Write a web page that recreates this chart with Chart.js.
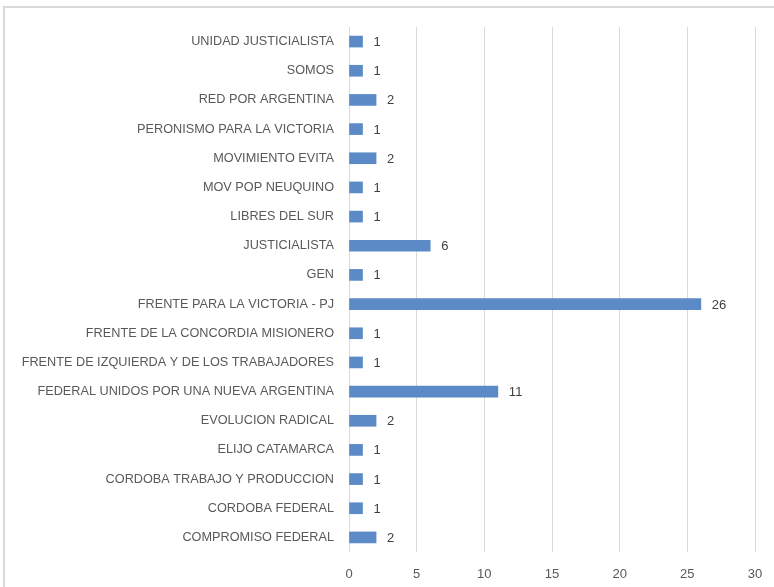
<!DOCTYPE html>
<html>
<head>
<meta charset="utf-8">
<title>Bloques</title>
<script src="https://cdn.jsdelivr.net/npm/chart.js@4/dist/chart.umd.min.js"></script>
<style>
  html, body { margin: 0; padding: 0; background: #fff; }
  #wrap { width: 774px; height: 587px; }
</style>
</head>
<body>
<div id="wrap"><canvas id="chart" width="774" height="587"></canvas></div>
<script>
// data, top to bottom as shown
const categories = [
	'UNIDAD JUSTICIALISTA',
	'SOMOS',
	'RED POR ARGENTINA',
	'PERONISMO PARA LA VICTORIA',
	'MOVIMIENTO EVITA',
	'MOV POP NEUQUINO',
	'LIBRES DEL SUR',
	'JUSTICIALISTA',
	'GEN',
	'FRENTE PARA LA VICTORIA - PJ',
	'FRENTE DE LA CONCORDIA MISIONERO',
	'FRENTE DE IZQUIERDA Y DE LOS TRABAJADORES',
	'FEDERAL UNIDOS POR UNA NUEVA ARGENTINA',
	'EVOLUCION RADICAL',
	'ELIJO CATAMARCA',
	'CORDOBA TRABAJO Y PRODUCCION',
	'CORDOBA FEDERAL',
	'COMPROMISO FEDERAL'
];
const values = [ 1, 1, 2, 1, 2, 1, 1, 6, 1, 26, 1, 1, 11, 2, 1, 1, 1, 2 ];
const xTicks = [ 0, 5, 10, 15, 20, 25, 30 ];

const FONT = 'Liberation Sans, Arial, sans-serif';

// white background + light grey frame like the pasted chart
const frame = {
	id: 'frame',
	beforeDraw( chart ) {
		const ctx = chart.ctx;
		ctx.save();
		ctx.fillStyle = '#fff';
		ctx.fillRect( 0, 0, chart.width, chart.height );
		ctx.strokeStyle = '#d9d9d9';
		ctx.lineWidth = 2;
		ctx.strokeRect( 4, 7, chart.width + 10, chart.height + 10 );
		ctx.restore();
	}
};

// value next to each bar end (no datalabels plugin available)
const barValues = {
	id: 'barValues',
	afterDatasetsDraw( chart ) {
		const ctx = chart.ctx;
		const meta = chart.getDatasetMeta( 0 );
		ctx.save();
		ctx.fillStyle = '#404040';
		ctx.font = '13px ' + FONT;
		ctx.textAlign = 'left';
		ctx.textBaseline = 'middle';
		meta.data.forEach( ( bar, i ) => {
			ctx.fillText( String( values[ i ] ), bar.x + 11, bar.y + 1 );
		} );
		ctx.restore();
	}
};

new Chart( document.getElementById( 'chart' ), {
	type: 'bar',
	data: {
		labels: categories,
		datasets: [ {
			data: values,
			backgroundColor: '#5b8ac6',
			barThickness: 11
		} ]
	},
	options: {
		indexAxis: 'y',
		responsive: false,
		animation: false,
		devicePixelRatio: 1,
		layout: { padding: { left: 0, right: 19, top: 27, bottom: 0 } },
		plugins: {
			legend: { display: false },
			tooltip: { enabled: false }
		},
		scales: {
			x: {
				min: 0,
				max: 30,
				afterBuildTicks( scale ) {
					scale.ticks = xTicks.map( v => ( { value: v } ) );
				},
				afterFit( scale ) { scale.height = 35; },
				// invisible tick marks give the label gap without widening the right padding
				grid: { color: '#d9d9d9', lineWidth: 1, drawTicks: true, tickLength: 15, tickColor: 'rgba(0,0,0,0)' },
				border: { display: false },
				ticks: {
					padding: 0,
					color: '#595959',
					font: { family: FONT, size: 13 }
				}
			},
			y: {
				afterFit( scale ) { scale.width = 349; },
				grid: { display: false, drawTicks: false },
				border: { display: false },
				ticks: {
					padding: 15,
					autoSkip: false,
					color: '#595959',
					font: { family: FONT, size: 12.7 }
				}
			}
		}
	},
	plugins: [ frame, barValues ]
} );
</script>
</body>
</html>
